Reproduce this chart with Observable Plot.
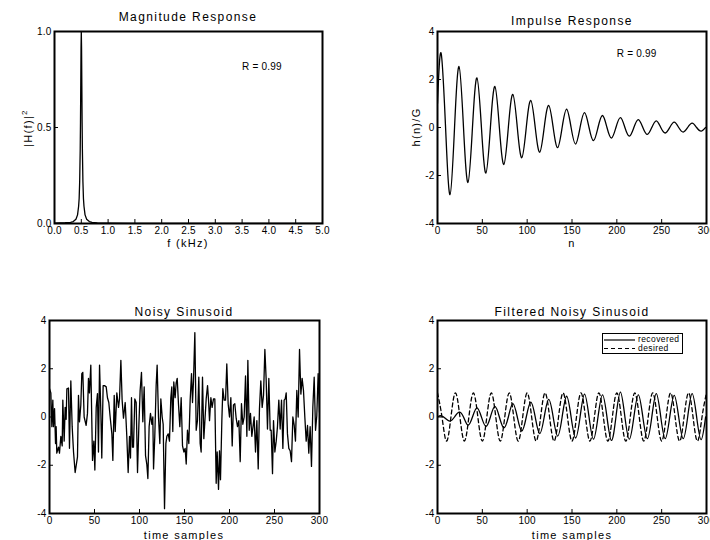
<!DOCTYPE html>
<html><head><meta charset="utf-8">
<script src="https://cdn.jsdelivr.net/npm/d3@7"></script>
<script src="https://cdn.jsdelivr.net/npm/@observablehq/plot@0.6"></script>
<style>
html,body{margin:0;padding:0;background:#fff;overflow:hidden}
#root{position:relative;width:710px;height:540px;overflow:hidden;font-family:"Liberation Sans",Arial,sans-serif;color:#000}
.panel{position:absolute}
.panel svg{max-width:none !important}
.lbl{position:absolute;white-space:nowrap;transform:translate(-50%,-50%);line-height:1}
.panel svg text{letter-spacing:0.2px}
</style></head><body><div id="root"></div><script>
// ---------- data ----------
const magF = [0, 0.1, 0.2, 0.3, 0.35, 0.4, 0.43, 0.45, 0.46, 0.47, 0.48, 0.485, 0.49, 0.495, 0.5, 0.505, 0.51, 0.515, 0.52, 0.53, 0.54, 0.55, 0.57, 0.6, 0.65, 0.7, 0.8, 1.0, 1.5, 2.0, 3.0, 4.0, 5.0];
const magH = [0.002, 0.003, 0.004, 0.006, 0.01, 0.022, 0.045, 0.09, 0.13, 0.22, 0.39, 0.53, 0.72, 0.91, 1.0, 0.91, 0.72, 0.53, 0.39, 0.22, 0.13, 0.09, 0.045, 0.022, 0.01, 0.006, 0.003, 0.002, 0.001, 0.001, 0.0005, 0.0005, 0.0005];
const magTicksX = [0, 0.5, 1, 1.5, 2, 2.5, 3, 3.5, 4, 4.5, 5];
const magTicksY = [0, 0.5, 1];

const impN = [0, 4, 9, 14, 19, 24, 29, 34, 39, 44, 49, 54, 59, 64, 69, 74, 79, 84, 89, 94, 99, 104, 109, 114, 119, 124, 129, 134, 139, 144, 149, 154, 159, 164, 169, 174, 179, 184, 189, 194, 199, 204, 209, 214, 219, 224, 229, 234, 239, 244, 249, 254, 259, 264, 269, 274, 279, 284, 289, 294, 299];
const impY = [1.0, 3.1, 0, -2.8, 0, 2.54, 0, -2.29, 0, 2.07, 0, -1.9, 0, 1.71, 0, -1.54, 0, 1.38, 0, -1.26, 0, 1.13, 0, -1.03, 0, 0.92, 0, -0.84, 0, 0.76, 0, -0.69, 0, 0.62, 0, -0.55, 0, 0.5, 0, -0.44, 0, 0.41, 0, -0.36, 0, 0.33, 0, -0.29, 0, 0.28, 0, -0.23, 0, 0.22, 0, -0.19, 0, 0.18, 0, -0.15, 0];

const noisyN = [0,1.5,2.6,3.7,4.4,5.6,6.7,7.4,8.1,10,
 11.1,12.6,14.1,14.8,16.3,17.4,18.5,19.3,21.1,22.2,
 23.7,25.2,26.7,28.5,31.1,32.2,33.3,34.8,35.9,37,
 38.5,40.7,42.2,43.3,44.4,45.9,47.8,49.3,50.4,51.9,
 53.3,54.4,55.6,57,58.1,59.6,61.1,63,64.4,65.9,
 67.4,69.3,70.4,71.9,73,74.8,76.7,77.8,79.3,80.7,
 82.2,84.1,85.9,87.4,88.9,90,91.1,92.2,93.3,94.8,
 96.3,97.8,99.3,100.7,102.2,103.7,105.2,106.7,108.1,109.3,
 110.7,112.2,113.7,114.8,115.6,117,118.5,119.6,121.1,122.6,
 123.7,125.2,126.3,127.8,129.3,130.4,131.9,133.3,134.8,135.9,
 137,138.1,139.6,140.7,141.9,143.3,144.8,146.3,147.8,149.3,
 150.7,151.9,153.3,154.8,156.3,157.8,158.9,160,161.5,163,
 164.4,165.9,167.4,168.5,170,171.5,172.6,174.1,175.6,176.7,
 177.8,179.3,180.7,182.2,183.7,185.2,186.3,187.8,188.9,190,
 191.5,192.6,194.1,195.6,197,198.5,200,201.5,203,204.4,
 205.9,207.4,208.9,210.4,211.9,213.3,214.8,216.3,217.8,219.3,
 220.4,221.9,223.3,224.8,226.3,227.4,228.9,230.4,231.9,233.3,
 234.8,236.3,237.8,239.3,240.7,242.2,243.7,245.2,246.3,247.8,
 248.9,250.4,251.9,253.3,254.8,256.3,257.8,259.3,260.7,261.9,
 263,264.4,265.9,267.4,268.9,270.4,271.9,273.3,274.8,276.3,
 277.8,279.3,280.7,282.2,283.7,285.2,286.7,288.1,289.6,291.1,
 292.6,294.1,295.6,297,298.5,300];
const noisyY = [1.17,1.0,-0.4,0.7,-0.4,0.35,-1.1,-0.4,-1.5,-1.25,
 -1.5,-0.8,-1.2,0.7,-1.0,0.4,-0.1,1.17,1.2,-1.3,
 1.5,-0.4,-1.45,-2.3,-1.65,0.9,-0.2,0.5,1.8,1.85,
 0,-0.35,0.15,1.6,1.0,2.15,-1.8,-1.0,-2.2,0.4,
 0.97,-1.45,2.15,0.3,-1.7,1.3,1.3,1.25,0.8,0.6,
 0,-0.7,-1.8,0.9,-0.6,1.0,0.4,0.75,2.35,0.7,
 -0.05,0.6,-0.8,-2.3,-0.8,-1.7,0.8,-1.25,-1.25,0.75,
 0.6,-2.3,-0.35,1.1,1.85,-0.2,1.25,-1.6,-1.95,-2.55,
 -0.4,0.15,-0.3,0,-2.15,-0.8,1.3,2.15,0,-1.1,
 0.75,0,-0.3,-3.8,-1.1,-0.8,-0.7,-1.0,0.8,1.25,
 -0.6,1.45,0.8,1.4,1.6,0.55,-0.4,0.8,-1.2,-1.45,
 -1.3,-1.95,-0.55,-1.1,0.7,1.8,0.6,1.5,3.5,-0.55,
 -0.15,1.65,-1.1,-1.45,1.65,-0.9,-0.2,0.75,1.3,0.7,
 -0.15,0.8,0.4,0.75,0.75,-2.75,-1.45,-3.0,-1.4,-2.6,
 -0.15,1.17,0.7,0.7,2.2,0.55,0,0.8,-1.2,0.5,
 0.55,-0.05,-0.4,-0.15,-1.85,0.55,-0.3,0,1.7,-0.8,
 2.35,-0.55,0.15,-0.8,-0.35,0,-1.45,-0.15,-2.15,0.35,
 1.5,0.4,0.9,2.8,1.6,-0.5,1.6,-0.55,-0.55,-2.35,
 -0.15,-1.45,-1.0,-0.4,0.7,-0.5,0.7,-1.3,0.7,0.75,
 1.0,-0.7,-1.3,-1.4,-1.85,0,-0.35,-1.0,1.1,0,
 2.8,0.95,1.6,1.1,0,-1.0,-0.35,-1.5,-0.4,-2.05,
 0.4,1.65,-0.55,0.05,1.8,0.2];

const recN = [0, 4, 9, 14, 19, 24, 29, 34, 39, 44, 49, 54, 59, 64, 69, 74, 79, 84, 89, 94, 99, 104, 109, 114, 119, 124, 129, 134, 139, 144, 149, 154, 159, 164, 169, 174, 179, 184, 189, 194, 199, 204, 209, 214, 219, 224, 229, 234, 239, 244, 249, 254, 259, 264, 269, 274, 279, 284, 289, 294, 299];
const recY = [0, 0.05, -0.06, -0.17, 0, 0.2, 0, -0.34, 0, 0.38, 0, -0.39, 0, 0.44, 0, -0.45, 0, 0.55, 0, -0.58, 0, 0.62, 0, -0.69, 0, 0.73, 0, -0.79, 0, 0.86, 0, -0.87, 0, 0.95, 0, -0.92, 0, 0.92, 0, -0.97, 0, 1.03, 0, -0.92, 0, 0.92, 0, -0.9, 0, 0.97, 0, -0.9, 0, 0.9, 0, -0.9, 0, 0.97, 0, -0.94, 0];

const desN = [0, 5, 10, 15, 20, 25, 30, 35, 40, 45, 50, 55, 60, 65, 70, 75, 80, 85, 90, 95, 100, 105, 110, 115, 120, 125, 130, 135, 140, 145, 150, 155, 160, 165, 170, 175, 180, 185, 190, 195, 200, 205, 210, 215, 220, 225, 230, 235, 240, 245, 250, 255, 260, 265, 270, 275, 280, 285, 290, 295, 300];
const desY = [1, 0, -1, 0, 1, 0, -1, 0, 1, 0, -1, 0, 1, 0, -1, 0, 1, 0, -1, 0, 1, 0, -1, 0, 1, 0, -1, 0, 1, 0, -1, 0, 1, 0, -1, 0, 1, 0, -1, 0, 1, 0, -1, 0, 1, 0, -1, 0, 1, 0, -1, 0, 1, 0, -1, 0, 1, 0, -1, 0, 1];

const sampTicksX = [0, 50, 100, 150, 200, 250, 300];
const sampTicksY = [-4, -2, 0, 2, 4];

const titles = ["Magnitude Response", "Impulse Response", "Noisy Sinusoid", "Filtered Noisy Sinusoid"];
const xLabels = ["f (kHz)", "n", "time samples", "time samples"];
const yLabels = ["|H(f)|<sup style='font-size:8px;vertical-align:5px'>2</sup>", "h(n)/G"];
const annot = "R = 0.99";
const legendLabels = ["recovered", "desired"];

// ---------- helpers ----------
const root = document.getElementById("root");
const zip = (xs, ys) => xs.map((x, i) => ({x, y: ys[i]})).filter(d => d.y !== undefined);
const F = '"Liberation Sans", Arial, sans-serif';

function panel({left, top, width, height, mL, mR, mT, mB, xDomain, yDomain, xTicks, yTicks, xFmt, yFmt, marks}) {
  const iw = width - mL - mR, ih = height - mT - mB;
  const svg = Plot.plot({
    width, height, marginLeft: mL, marginRight: mR, marginTop: mT, marginBottom: mB,
    x: {domain: xDomain}, y: {domain: yDomain},
    style: {fontFamily: F, fontSize: "10px", background: "transparent", overflow: "visible", color: "#000", maxWidth: "none"},
    marks: [
      ...marks,
      Plot.tickX(xTicks, {x: d => d, insetTop: ih - 4, stroke: "#000", strokeWidth: 1}),
      Plot.tickY(yTicks, {y: d => d, insetRight: iw - 4, stroke: "#000", strokeWidth: 1}),
      Plot.axisX({ticks: xTicks, tickSize: 0, tickPadding: 3, tickFormat: xFmt, label: null}),
      Plot.axisY({ticks: yTicks, tickSize: 0, tickPadding: 3, tickFormat: yFmt, label: null}),
      Plot.frame({stroke: "#000", strokeWidth: 2})
    ]
  });
  svg.style.maxWidth = "none";
  svg.style.width = width + "px";
  svg.style.height = height + "px";
  const div = document.createElement("div");
  div.className = "panel";
  div.style.left = left + "px"; div.style.top = top + "px";
  div.style.width = width + "px"; div.style.height = height + "px";
  div.appendChild(svg);
  root.appendChild(div);
}
function label(html, x, y, size, spacing, rotate) {
  const d = document.createElement("div");
  d.className = "lbl";
  d.innerHTML = html;
  d.style.left = x + "px"; d.style.top = y + "px";
  d.style.fontSize = size + "px"; d.style.letterSpacing = spacing + "px";
  if (rotate) d.style.transform = "translate(-50%,-50%) rotate(-90deg)";
  root.appendChild(d);
}
const f1 = d3.format(".1f");
const fi = d => String(d);
const lineOpts = {x: "x", y: "y", stroke: "#000", strokeWidth: 1.3, clip: true};

// Panel 1: magnitude response
panel({left: 0, top: 0, width: 355, height: 270, mL: 54, mR: 33, mT: 31, mB: 47,
  xDomain: [0, 5], yDomain: [0, 1], xTicks: magTicksX, yTicks: magTicksY, xFmt: f1, yFmt: f1,
  marks: [
    Plot.line(zip(magF, magH), {...lineOpts, curve: "linear"}),
    Plot.text([annot], {x: 3.5, y: 0.814, textAnchor: "start", fontSize: 10})
  ]});
// Panel 2: impulse response
panel({left: 355, top: 0, width: 375, height: 270, mL: 82, mR: 24, mT: 31, mB: 47,
  xDomain: [0, 300], yDomain: [-4, 4], xTicks: sampTicksX, yTicks: sampTicksY, xFmt: fi, yFmt: fi,
  marks: [
    Plot.line(zip(impN, impY), {...lineOpts, curve: "natural"}),
    Plot.text([annot], {x: 200, y: 3.08, textAnchor: "start", fontSize: 10})
  ]});
// Panel 3: noisy sinusoid
panel({left: 0, top: 270, width: 355, height: 270, mL: 49, mR: 36, mT: 50, mB: 27,
  xDomain: [0, 300], yDomain: [-4, 4], xTicks: sampTicksX, yTicks: sampTicksY, xFmt: fi, yFmt: fi,
  marks: [
    Plot.line(zip(noisyN, noisyY), {...lineOpts, curve: "linear"})
  ]});
// Panel 4: filtered
panel({left: 355, top: 270, width: 375, height: 270, mL: 82, mR: 24, mT: 50, mB: 27,
  xDomain: [0, 300], yDomain: [-4, 4], xTicks: sampTicksX, yTicks: sampTicksY, xFmt: fi, yFmt: fi,
  marks: [
    Plot.line(zip(desN, desY), {...lineOpts, curve: "natural", strokeDasharray: "4,3"}),
    Plot.line(zip(recN, recY), {...lineOpts, curve: "natural"})
  ]});

// titles and axis labels
label(titles[0], 188, 17, 12, 1.4);
label(titles[1], 572, 21, 12, 1.4);
label(titles[2], 184, 312, 12, 1.4);
label(titles[3], 572, 312, 12, 1.4);
label(xLabels[0], 188, 243, 11, 1.3);
label(xLabels[1], 572, 243, 11, 1.3);
label(xLabels[2], 184, 535, 11, 1.3);
label(xLabels[3], 572, 535, 11, 1.3);
label(yLabels[0], 27, 128, 11, 1.3, true);
label(yLabels[1], 416, 127, 11, 1.3, true);

// legend box (panel 4)
const NS = "http://www.w3.org/2000/svg";
const lg = document.createElementNS(NS, "svg");
lg.setAttribute("width", 81); lg.setAttribute("height", 21);
lg.style.position = "absolute"; lg.style.left = "602px"; lg.style.top = "333px";
lg.innerHTML = `<rect x="0.5" y="0.5" width="80" height="20" fill="#fff" stroke="#000" stroke-width="1"/>
<line x1="2" x2="33" y1="7" y2="7" stroke="#000" stroke-width="1.2"/>
<line x1="2" x2="33" y1="15.5" y2="15.5" stroke="#000" stroke-width="1.2" stroke-dasharray="4,3"/>
<text x="36" y="6" dy="0.35em" font-size="8.5" font-family='${F}' letter-spacing="0.4">${legendLabels[0]}</text>
<text x="36" y="15" dy="0.35em" font-size="8.5" font-family='${F}' letter-spacing="0.4">${legendLabels[1]}</text>`;
root.appendChild(lg);
</script></body></html>
